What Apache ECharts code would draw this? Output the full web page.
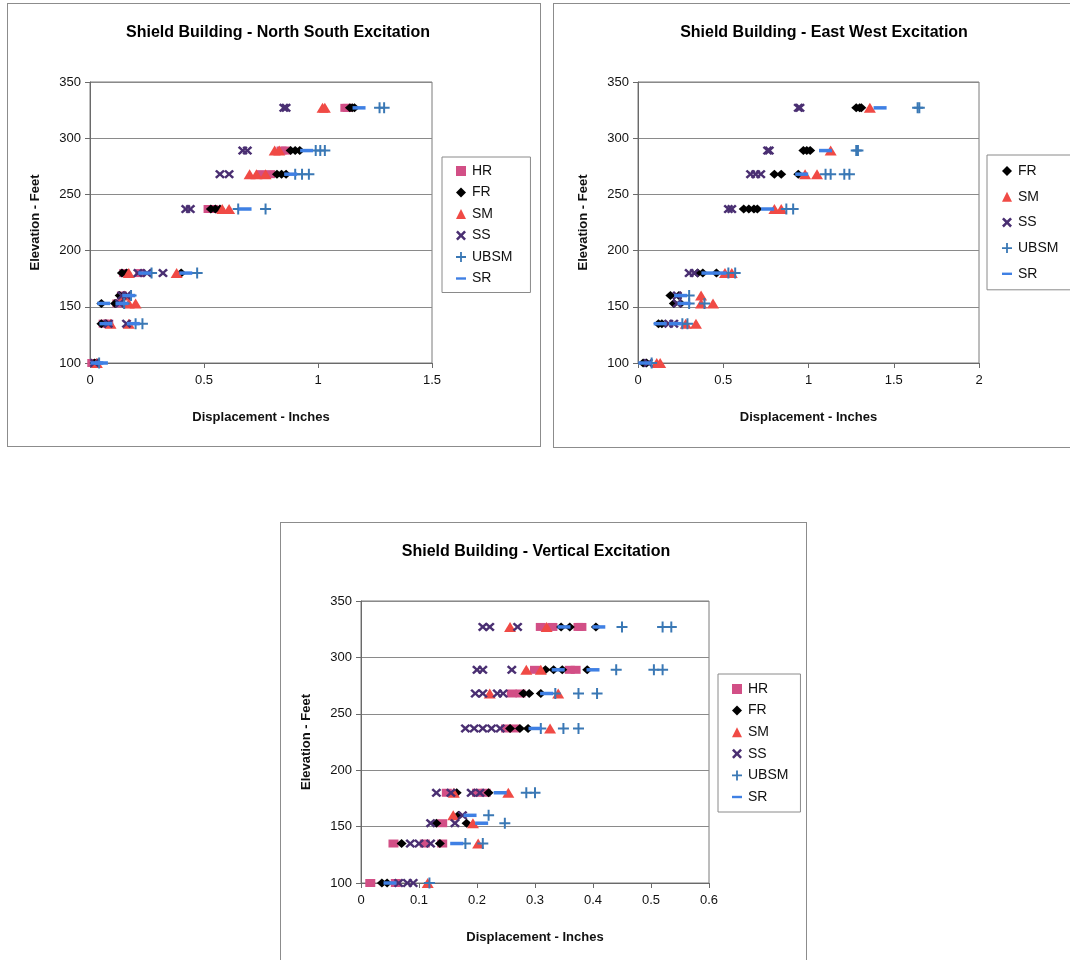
<!DOCTYPE html>
<html><head><meta charset="utf-8">
<script src="https://cdn.jsdelivr.net/npm/echarts@6/dist/echarts.min.js"></script>
<style>
html,body{margin:0;padding:0;background:#fff;width:1070px;height:960px;overflow:hidden;position:relative;}
.box{position:absolute;border:1px solid #8c8c8c;box-sizing:border-box;background:#fff;}
</style></head><body>
<div id="c1" class="box" style="left:7px;top:3px;width:534px;height:444px"></div>
<div id="c2" class="box" style="left:553px;top:3px;width:530px;height:445px"></div>
<div id="c3" class="box" style="left:280px;top:522px;width:527px;height:445px"></div>
<script>
// Elevations (feet) at which displacements were reported
const ELEV = [327, 289, 268, 237, 180, 160, 153, 135, 100];

// North South excitation: displacement (in) per elevation row
const NS_HR   = [[1.12,1.13],[0.84,0.86],[0.75,0.79],[0.52,0.54],[0.15,0.22],[0.14],[0.12],[0.06,0.08],[0.01]];
const NS_FR   = [[1.14,1.15,1.16],[0.88,0.90,0.92],[0.82,0.84,0.86],[0.53,0.55,0.57],[0.14,0.16,0.40],[0.13,0.15],[0.05,0.11],[0.05,0.07],[0.02,0.03]];
const NS_SM   = [[1.02,1.03],[0.81,0.83],[0.70,0.73,0.77],[0.58,0.61],[0.17,0.38],[0.15],[0.17,0.20],[0.09,0.17],[0.03]];
const NS_SS   = [[0.85,0.86],[0.67,0.69],[0.57,0.61],[0.42,0.44],[0.21,0.25,0.32],[0.14,0.16],[0.13],[0.08,0.16],[0.02]];
const NS_UBSM = [[1.27,1.29],[0.99,1.01,1.03],[0.90,0.93,0.96],[0.65,0.77],[0.27,0.47],[0.18],[0.15],[0.20,0.23],[0.04]];
const NS_SR   = [[1.18],[0.95],[0.88],[0.68],[0.24,0.42],[0.17],[0.06,0.14],[0.07,0.19],[0.03,0.05]];

// East West excitation
const EW_FR   = [[1.28,1.30,1.31],[0.97,0.99,1.01],[0.80,0.84,0.94],[0.62,0.65,0.68,0.70],[0.35,0.38,0.46],[0.19,0.24],[0.21,0.25],[0.12,0.14],[0.03,0.05]];
const EW_SM   = [[1.36],[1.13],[0.98,1.05],[0.80,0.84],[0.51,0.55],[0.37],[0.37,0.44],[0.28,0.34],[0.11,0.13]];
const EW_SS   = [[0.94,0.95],[0.76,0.77],[0.66,0.69,0.72],[0.53,0.55],[0.30,0.33],[0.23],[0.23],[0.18,0.21],[0.06]];
const EW_UBSM = [[1.64,1.65],[1.28,1.29],[1.10,1.13,1.21,1.24],[0.87,0.91],[0.53,0.57],[0.30],[0.30,0.39],[0.26,0.29],[0.08]];
const EW_SR   = [[1.42],[1.10],[0.96],[0.76],[0.41,0.48],[0.25],[0.27],[0.13,0.22],[0.04]];

// Vertical excitation
const V_HR   = [[0.31,0.33,0.375,0.38],[0.30,0.36,0.37],[0.26,0.275],[0.25,0.265],[0.148,0.20,0.215],[],[0.14],[0.056,0.11,0.14],[0.016,0.06]];
const V_FR   = [[0.345,0.36,0.405],[0.318,0.332,0.347,0.39],[0.28,0.29,0.31],[0.257,0.274,0.288],[0.165,0.22],[0.168],[0.13,0.182],[0.07,0.136],[0.036,0.045]];
const V_SM   = [[0.257,0.32],[0.285,0.31],[0.222,0.34],[0.326],[0.16,0.254],[0.159],[0.193],[0.202],[0.115]];
const V_SS   = [[0.21,0.222,0.27],[0.20,0.21,0.26],[0.197,0.21,0.235,0.245],[0.18,0.195,0.21,0.225,0.24],[0.13,0.155,0.19,0.205],[0.175],[0.12,0.162],[0.085,0.10,0.12],[0.065,0.08,0.09]];
const V_UBSM = [[0.45,0.52,0.535],[0.44,0.505,0.52],[0.335,0.375,0.407],[0.31,0.349,0.375],[0.285,0.30],[0.22],[0.248],[0.18,0.21],[0.118]];
const V_SR   = [[0.35,0.41],[0.34,0.40],[0.32],[0.30],[0.24],[0.188],[0.208],[0.165],[0.05]];

const TITLES = ['Shield Building - North South Excitation','Shield Building - East West Excitation','Shield Building - Vertical Excitation'];
const X_NAME = 'Displacement - Inches';
const Y_NAME = 'Elevation - Feet';

const XPATH = 'path://M0,1.8L1.8,0L5,3.2L8.2,0L10,1.8L6.8,5L10,8.2L8.2,10L5,6.8L1.8,10L0,8.2L3.2,5Z';
const PPATH = 'path://M4.1,0H5.9V4.1H10V5.9H5.9V10H4.1V5.9H0V4.1H4.1Z';
const STYLE = {
  HR:   {color:'#d24f86', symbol:'rect', size:[10,8], icon:'rect'},
  FR:   {color:'#000000', symbol:'diamond', size:[10,9], icon:'diamond'},
  SM:   {color:'#f04a45', symbol:'triangle', size:[12,10], icon:'triangle'},
  SS:   {color:'#4a2f72', symbol:XPATH, size:[10,9], icon:XPATH},
  UBSM: {color:'#3a78b5', symbol:PPATH, size:11, icon:PPATH},
  SR:   {color:'#3f80e4', symbol:'rect', size:[13,3.5], icon:'path://M0,3.8H10V6.2H0Z'}
};

function pts(rows){
  const out=[];
  rows.forEach((r,i)=>r.forEach(v=>out.push([v, ELEV[i]])));
  return out;
}

function build(id, cfg){
  const ch = echarts.init(document.getElementById(id), null, {renderer:'canvas'});
  const names = Object.keys(cfg.series);
  ch.setOption({
    animation:false,
    backgroundColor:'#fff',
    title:{text:cfg.title, left:cfg.titleX, top:16, textAlign:'center',
      textStyle:{fontFamily:'Liberation Sans, Arial', fontSize:16, fontWeight:'bold', color:'#000'}},
    grid:{left:cfg.gl, top:78, width:cfg.gw, height:cfg.gh, show:true, borderColor:'#7a7a7a', borderWidth:1, backgroundColor:'#fff'},
    legend:{orient:'vertical', left:cfg.lx, top:cfg.ly, itemWidth:10, itemHeight:10, itemGap:cfg.lgap,
      padding:cfg.lpad, borderColor:'#8a8a8a', borderWidth:1, backgroundColor:'#fff',
      textStyle:{fontFamily:'Liberation Sans, Arial', fontSize:14, color:'#111', padding:[0,0,0,1]},
      data:names.map(n=>({name:n, icon:STYLE[n].icon, itemStyle:{color:STYLE[n].color}}))},
    xAxis:{type:'value', min:0, max:cfg.xmax, interval:cfg.xint, name:X_NAME, nameLocation:'middle', nameGap:48,
      nameTextStyle:{fontFamily:'Liberation Sans, Arial', fontSize:13, fontWeight:'bold', color:'#111'},
      axisLine:{show:true, onZero:false, lineStyle:{color:'#6a6a6a'}}, axisTick:{show:true, length:5, lineStyle:{color:'#6a6a6a'}},
      axisLabel:{fontFamily:'Liberation Sans, Arial', fontSize:13, color:'#111', margin:11}, splitLine:{show:false}},
    yAxis:{type:'value', min:100, max:350, interval:50, name:Y_NAME, nameLocation:'middle', nameGap:cfg.yng, nameRotate:90,
      nameTextStyle:{fontFamily:'Liberation Sans, Arial', fontSize:13, fontWeight:'bold', color:'#111'},
      axisLine:{show:true, onZero:false, lineStyle:{color:'#6a6a6a'}}, axisTick:{show:true, length:5, lineStyle:{color:'#6a6a6a'}},
      axisLabel:{fontFamily:'Liberation Sans, Arial', fontSize:13, color:'#111', margin:9},
      splitLine:{show:true, lineStyle:{color:'#8a8a8a', width:1}}},
    series:names.map(n=>({type:'scatter', name:n, data:pts(cfg.series[n]),
      symbol:STYLE[n].symbol, symbolSize:STYLE[n].size, itemStyle:{color:STYLE[n].color, opacity:1}}))
  });
}

build('c1', {title:TITLES[0], titleX:265, gl:82, gw:342, gh:281, xmax:1.5, xint:0.5, yng:48,
  lx:434, ly:153, lgap:7.5, lpad:[7,18,7,14],
  series:{HR:NS_HR, FR:NS_FR, SM:NS_SM, SS:NS_SS, UBSM:NS_UBSM, SR:NS_SR}});
build('c2', {title:TITLES[1], titleX:265, gl:84, gw:341, gh:281, xmax:2, xint:0.5, yng:48,
  lx:433, ly:151, lgap:11.7, lpad:[9,30,9,15],
  series:{FR:EW_FR, SM:EW_SM, SS:EW_SS, UBSM:EW_UBSM, SR:EW_SR}});
build('c3', {title:TITLES[2], titleX:250, gl:80, gw:348, gh:282, xmax:0.6, xint:0.1, yng:48,
  lx:437, ly:151, lgap:7.6, lpad:[8,12,8,14],
  series:{HR:V_HR, FR:V_FR, SM:V_SM, SS:V_SS, UBSM:V_UBSM, SR:V_SR}});
</script>
</body></html>
